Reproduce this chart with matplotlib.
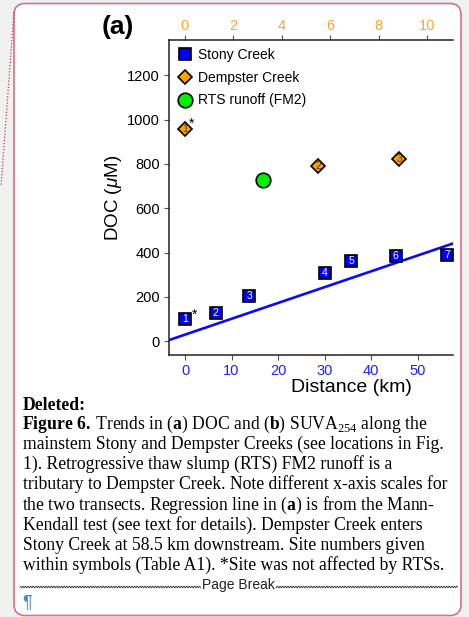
import matplotlib.pyplot as plt
import numpy as np
from matplotlib.patches import FancyBboxPatch
from matplotlib.lines import Line2D

plt.rcParams['font.family'] = ['Liberation Sans', 'DejaVu Sans']
plt.rcParams['mathtext.fontset'] = 'custom'
plt.rcParams['mathtext.rm'] = 'Liberation Serif'
plt.rcParams['mathtext.bf'] = 'Liberation Serif:bold'
plt.rcParams['mathtext.it'] = 'Liberation Sans:italic'

# DATA
stony_km = [0, 6.6, 13.8, 30.0, 35.7, 45.3, 56.3]
stony_doc = [100, 125, 203, 306, 363, 386, 390]
stony_site = ['1', '2', '3', '4', '5', '6', '7']

dempster_km = [0, 5.5, 8.85]
dempster_doc = [958, 792, 823]
dempster_site = ['1', '2', '3']

rts_km = [3.2]
rts_doc = [727]

# Mann-Kendall line (Stony Creek)
mk_intercept = 29
mk_slope = 7.15

caption = [
    r"$\mathbf{Figure\ 6.}\,$Trends in ($\mathbf{a}$) DOC and ($\mathbf{b}$) SUVA$_{\mathrm{254}}$ along the",
    "mainstem Stony and Dempster Creeks (see locations in Fig.",
    "1). Retrogressive thaw slump (RTS) FM2 runoff is a",
    "tributary to Dempster Creek. Note different x-axis scales for",
    r"the two transects. Regression line in ($\mathbf{a}$) is from the Mann-",
    "Kendall test (see text for details). Dempster Creek enters",
    "Stony Creek at 58.5 km downstream. Site numbers given",
    "within symbols (Table A1). *Site was not affected by RTSs.",
]

W, H = 469, 617
fig = plt.figure(figsize=(W / 100, H / 100), dpi=100)
fig.patch.set_facecolor('#f1f1f1')


def fx(x):
    return x / W


def fy(y):
    return 1 - y / H


# page box + comment connector
box = FancyBboxPatch((0.14, 0.015), 4.47, 6.12,
                     boxstyle='round,pad=0,rounding_size=0.11',
                     transform=fig.dpi_scale_trans, fc='white',
                     ec='#d87088', lw=1.2, zorder=-1)
fig.add_artist(box)
fig.add_artist(Line2D([fx(14), fx(1)], [fy(12), fy(186)], transform=fig.transFigure,
                      color='#c8305a', lw=0.9, ls=(0, (1, 1.5))))

# AXES
ax = fig.add_axes([fx(169), fy(355), 284 / W, 315 / H])
ax.set_xlim(-3.44, 57.6)
ax.set_ylim(-63, 1360)
ax2 = ax.twiny()
ax2.set_xlim(-0.66, 11.06)

for s in ['right', 'top']:
    ax.spines[s].set_visible(False)
for s in ['left', 'bottom', 'right']:
    ax2.spines[s].set_visible(False)
for sp in [ax.spines['left'], ax.spines['bottom'], ax2.spines['top']]:
    sp.set_linewidth(1.1)
    sp.set_color('#222222')

ax.set_xticks([0, 10, 20, 30, 40, 50])
ax.set_yticks(range(0, 1201, 200))
ax2.set_xticks(range(0, 11, 2))
ax.tick_params(axis='both', direction='out', length=3.5, width=0.8, color='#555555',
               labelsize=10.5, pad=3)
ax.tick_params(axis='x', labelcolor='#2020ff')
ax2.tick_params(axis='x', direction='out', length=3.5, width=0.8, color='#555555',
                labelsize=10.5, labelcolor='#ffa51f', pad=1.5)

xs = np.array(ax.get_xlim())
ax.plot(xs, mk_intercept + mk_slope * xs, color='#0a0aff', lw=1.9, zorder=1)

h_stony, = ax.plot(stony_km, stony_doc, 's', ms=8.6, mfc='#0000ff', mec='black',
                   mew=1.2, zorder=3, clip_on=False)
for k, d, s in zip(stony_km, stony_doc, stony_site):
    ax.text(k, d, s, color='white', fontsize=7.5, ha='center', va='center', zorder=4)

h_dem, = ax2.plot(dempster_km, dempster_doc, 'D', ms=7.6, mfc='#ffa200', mec='black',
                  mew=1.2, zorder=3, clip_on=False)
for k, d, s in zip(dempster_km, dempster_doc, dempster_site):
    ax2.text(k, d, s, color='#333333', fontsize=7.5, ha='center', va='center', zorder=4)

h_rts, = ax2.plot(rts_km, rts_doc, 'o', ms=10.5, mfc='#00ee00', mec='black', mew=1.2,
                  zorder=3)

# asterisks: sites not affected by RTSs
ax.annotate('*', (stony_km[0], stony_doc[0]), xytext=(6.5, 3), textcoords='offset points',
            fontsize=10, ha='center', va='center')
ax2.annotate('*', (dempster_km[0], dempster_doc[0]), xytext=(4.5, 4), textcoords='offset points',
             fontsize=10, ha='center', va='center')

ax2.legend([h_stony, h_dem, h_rts], ['Stony Creek', 'Dempster Creek', 'RTS runoff (FM2)'],
           loc='upper left', bbox_to_anchor=(0.032, 0.975), frameon=False, fontsize=10,
           handlelength=1.0, handletextpad=0.4, borderpad=0, borderaxespad=0,
           labelspacing=0.63, numpoints=1)

ax.set_ylabel(r'DOC ($\mu$M)', fontsize=13.5, labelpad=2)
ax.set_xlabel('Distance (km)', fontsize=14)
ax.xaxis.set_label_coords(0.644, -0.075)

fig.text(fx(118), fy(27), '(a)', fontsize=19, fontweight='bold', ha='center', va='center')

# CAPTION
serif = ['Liberation Serif', 'DejaVu Serif']
fig.text(fx(23), fy(410), 'Deleted:', fontsize=12.7, fontweight='bold', family=serif,
         va='baseline')
for i, line in enumerate(caption):
    x0 = 22 if '$' in line else 23
    fig.text(fx(x0), fy(428.5 + 20.25 * i), line, fontsize=12.7, family=serif, va='baseline')

# page break
fig.text(fx(238), fy(585), 'Page Break', fontsize=10, ha='center', va='center', color='#222222')
for x0, x1 in [(20, 201), (276, 458)]:
    wx = np.arange(x0, x1, 0.5)
    wy = 587 + 0.9 * np.sin(wx * 2 * np.pi / 2.6)
    fig.add_artist(Line2D(fx(wx), fy(wy), transform=fig.transFigure, color='#333333', lw=0.6))

fig.text(fx(27), fy(603), '\u00b6', fontsize=13, ha='center', va='center', color='#4a86d4')

fig.savefig('out.png', dpi=100, facecolor=fig.get_facecolor())
